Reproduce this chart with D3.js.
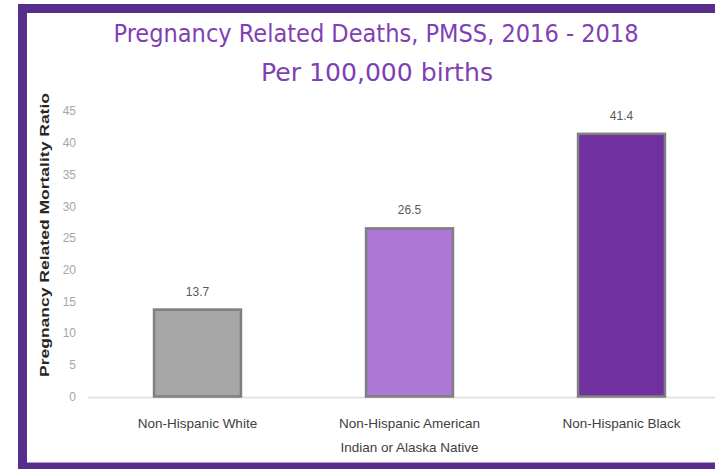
<!DOCTYPE html>
<html><head><meta charset="utf-8">
<script src="https://cdn.jsdelivr.net/npm/d3@7"></script>
<style>body{margin:0;background:#fff}svg{display:block}</style>
</head><body><svg id="c" width="715" height="469"></svg>
<script>
const categories = [["Non-Hispanic White"], ["Non-Hispanic American", "Indian or Alaska Native"], ["Non-Hispanic Black"]];
const values = [13.7, 26.5, 41.4];
const labels = ["13.7", "26.5", "41.4"];
const colors = ["#A6A6A6", "#AC76D4", "#7030A0"];
const yTicks = [0, 5, 10, 15, 20, 25, 30, 35, 40, 45];
const titleLines = ["Pregnancy Related Deaths, PMSS, 2016 - 2018", "Per 100,000 births"];
const yTitle = "Pregnancy Related Mortality Ratio";

const svg = d3.select("#c");
svg.append("rect").attr("width", 715).attr("height", 469).attr("fill", "#fff");

// frame
svg.append("rect").attr("x", 22.5).attr("y", 8.5).attr("width", 720).attr("height", 458.5)
  .attr("fill", "none").attr("stroke", "#582D8C").attr("stroke-width", 9);

const x = d3.scaleBand().domain(d3.range(values.length)).range([91.5, 727.5]).paddingInner(0.59).paddingOuter(0.295);
const y = d3.scaleLinear().domain([0, 45]).range([396.5, 111]);

// y axis labels
const ya = svg.append("g").attr("transform", "translate(76,0)")
  .call(d3.axisLeft(y).tickValues(yTicks).tickSize(0).tickPadding(0));
ya.select(".domain").remove();
ya.selectAll("text").attr("fill", "#a6a6a6").style("font-family", "Liberation Sans, Arial, sans-serif").style("font-size", "12px");

// baseline
svg.append("line").attr("x1", 88).attr("x2", 715).attr("y1", y(0) + 1).attr("y2", y(0) + 1)
  .attr("stroke", "#e3e3e3").attr("stroke-width", 2);

// bars
svg.selectAll(".bar").data(values).join("rect")
  .attr("x", (d, i) => x(i)).attr("width", x.bandwidth())
  .attr("y", d => y(d)).attr("height", d => y(0) - y(d))
  .attr("fill", (d, i) => colors[i]).attr("stroke", "#7f7f7f").attr("stroke-width", 2.5);

// value labels
svg.selectAll(".vl").data(values).join("text")
  .attr("x", (d, i) => x(i) + x.bandwidth() / 2).attr("y", d => y(d) - 14)
  .attr("text-anchor", "middle").attr("fill", "#595959")
  .style("font-family", "Liberation Sans, Arial, sans-serif").style("font-size", "12px")
  .text((d, i) => labels[i]);

// category labels
categories.forEach((lines, i) => {
  lines.forEach((t, j) => {
    svg.append("text").attr("x", x(i) + x.bandwidth() / 2).attr("y", 428 + j * 24)
      .attr("text-anchor", "middle").attr("fill", "#404040")
      .style("font-family", "Liberation Sans, Arial, sans-serif").style("font-size", "13.5px")
      .text(t);
  });
});

// y title
svg.append("text").attr("transform", "translate(49,235) rotate(-90)")
  .attr("text-anchor", "middle").attr("fill", "#262626")
  .style("font-family", "Liberation Sans, Arial, sans-serif").style("font-size", "12px").style("font-weight", "bold")
  .attr("textLength", 284).attr("lengthAdjust", "spacingAndGlyphs")
  .text(yTitle);

// title
const tl = [[376, 42, 525], [377, 81, 232]];
titleLines.forEach((t, i) => {
  svg.append("text").attr("x", tl[i][0]).attr("y", tl[i][1]).attr("text-anchor", "middle")
    .attr("fill", "#7F3FB5")
    .style("font-family", "Liberation Sans Narrow, DejaVu Sans Condensed, Liberation Sans, sans-serif").style("font-size", "25px")
    .attr("textLength", tl[i][2]).attr("lengthAdjust", "spacingAndGlyphs")
    .text(t);
});
</script></body></html>
